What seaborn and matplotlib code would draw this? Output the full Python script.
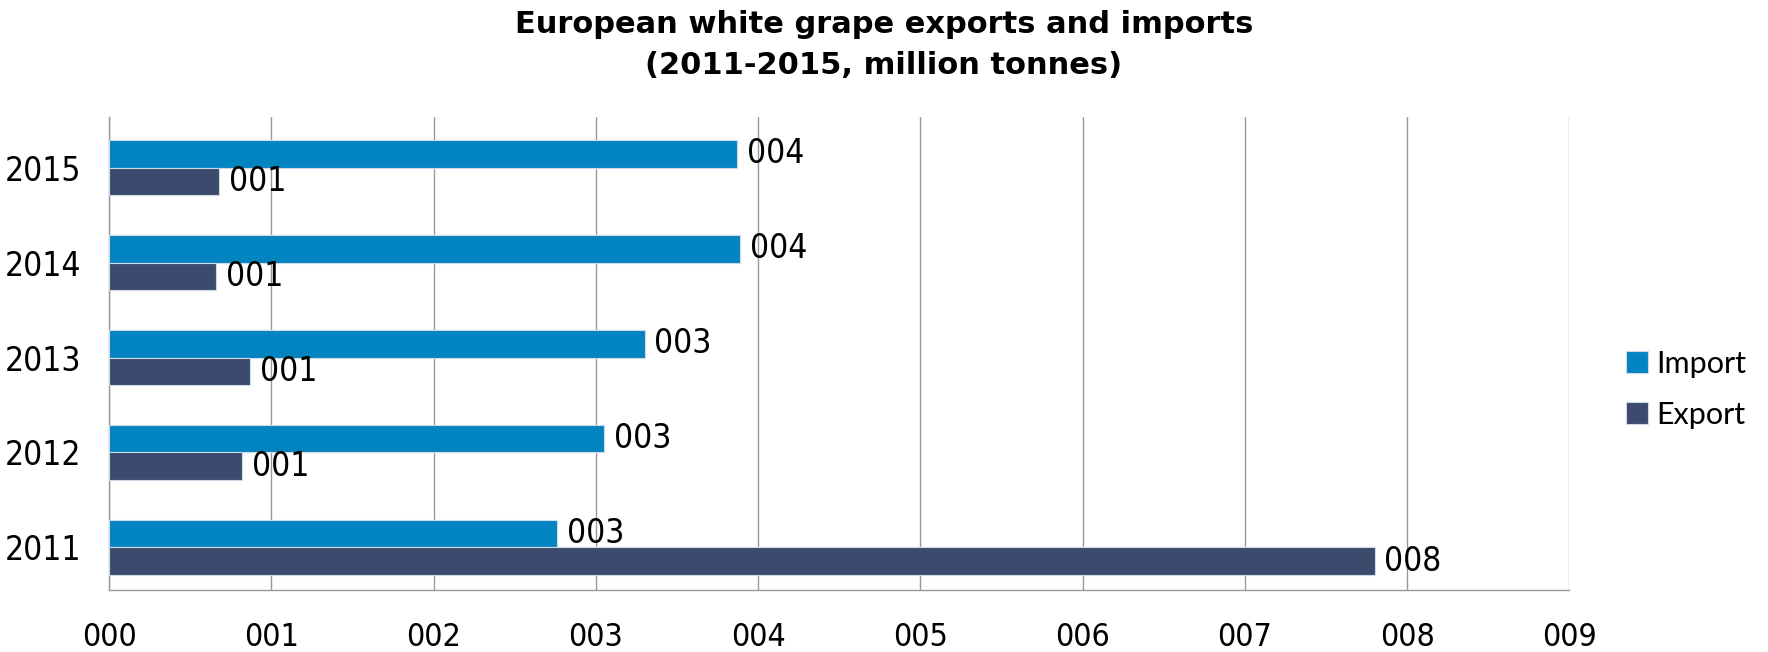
import pandas as pd
import matplotlib.pyplot as plt
import seaborn as sns

# values (million tonnes)
years = ['2015', '2014', '2013', '2012', '2011']
imports = [3.87, 3.89, 3.30, 3.05, 2.76]
exports = [0.68, 0.66, 0.87, 0.82, 7.80]
xticks = list(range(0, 10))

df = pd.DataFrame({
    'Year': years * 2,
    'Value': imports + exports,
    'Flow': ['Import'] * len(years) + ['Export'] * len(years),
})

sns.set_style('white')
plt.rcParams['font.family'] = ['DejaVu Sans']
plt.rcParams['font.stretch'] = 'condensed'
plt.rcParams['text.color'] = 'black'
plt.rcParams['xtick.color'] = 'black'
plt.rcParams['ytick.color'] = 'black'

fig = plt.figure(figsize=(17.68, 6.52), dpi=100)
ax = fig.add_axes([0.0617, 0.095, 0.826, 0.725])

sns.barplot(data=df, x='Value', y='Year', hue='Flow', order=years,
            hue_order=['Import', 'Export'], orient='h', width=0.58,
            palette={'Import': '#0284C0', 'Export': '#3B4A6D'},
            saturation=1, edgecolor='#cfd8e6', linewidth=0.8, ax=ax, zorder=3)

for cont in ax.containers:
    ax.bar_label(cont, labels=['%03d' % round(v) for v in cont.datavalues],
                 padding=7, fontsize=24, zorder=4)

ax.set_xlim(0, 9)
ax.set_ylim(4.45, -0.53)
ax.set_xticks(xticks)
ax.set_xticklabels(['%03d' % t for t in xticks])
ax.tick_params(axis='x', length=0, pad=23, labelsize=23)
ax.tick_params(axis='y', length=0, pad=20, labelsize=24)
ax.grid(axis='x', color='#999999', linewidth=1, zorder=0)
ax.grid(axis='y', visible=False)
ax.set_xlabel('')
ax.set_ylabel('')
for s in ['top', 'right']:
    ax.spines[s].set_visible(False)
for s in ['left', 'bottom']:
    ax.spines[s].set_color('#999999')
    ax.spines[s].set_linewidth(1)

ax.legend(loc='center left', bbox_to_anchor=(1.02, 0.425), frameon=False,
          prop={'family': 'Lato', 'size': 22, 'stretch': 'normal'},
          handlelength=0.7, handleheight=0.7, handletextpad=0.3,
          labelspacing=0.75)

fig.suptitle('European white grape exports and imports\n(2011-2015, million tonnes)',
             fontsize=22, fontweight='bold', family='DejaVu Sans',
             stretch='normal', y=0.985, linespacing=1.55)

fig.savefig('out.png', dpi=100)
